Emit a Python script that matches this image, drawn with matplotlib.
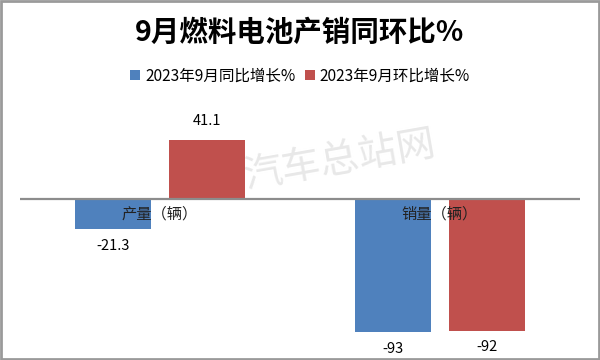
import matplotlib.pyplot as plt
import numpy as np
from matplotlib.patches import Rectangle

plt.rcParams['font.family'] = ['Noto Sans CJK SC', 'DejaVu Sans']

categories = ["产量（辆）", "销量（辆）"]
yoy = [-21.3, -93]
mom = [41.1, -92]
series_names = ["2023年9月同比增长%", "2023年9月环比增长%"]
colors = ["#4F81BD", "#C0504D"]

fig = plt.figure(figsize=(6, 3.6), dpi=100)
ax = fig.add_axes([20 / 600, 1 - 342 / 360, 560 / 600, 229 / 360])

x = np.arange(len(categories))
w = 0.27
off = 0.168
b1 = ax.bar(x - off, yoy, w, color=colors[0], label=series_names[0])
b2 = ax.bar(x + off, mom, w, color=colors[1], label=series_names[1])

ax.set_xlim(-0.5, 1.5)
ax.set_ylim(-100, 60)
ax.axhline(0, color="#8c8c8c", lw=1.6)
ax.axis("off")

# value labels
for bars in (b1, b2):
    for rect in bars:
        v = rect.get_height()
        cx = rect.get_x() + rect.get_width() / 2
        if v >= 0:
            ax.annotate(f"{v:g}", (cx, v), xytext=(0, 9), textcoords="offset points",
                        ha="center", va="bottom", fontsize=10.5)
        else:
            ax.annotate(f"{v:g}", (cx, v), xytext=(0, -7), textcoords="offset points",
                        ha="center", va="top", fontsize=10.5)

# category labels just below the zero line
for i, c in enumerate(categories):
    ax.annotate(c, (i, 0), xytext=(0, -5), textcoords="offset points",
                ha="center", va="top", fontsize=11, color="#222222")

fig.text(0.5, 1 - 33 / 360, "9月燃料电池产销同环比%", ha="center", va="center",
         fontsize=20.5, fontweight="bold")

fig.legend(handles=[b1, b2], loc="center", bbox_to_anchor=(0.5, 1 - 76 / 360),
           ncol=2, frameon=False, fontsize=11.2, handlelength=0.65, handleheight=0.65,
           handletextpad=0.3, columnspacing=0.6)

# watermark, behind the bars
fig.text(340 / 600, 1 - 160 / 360, "汽车总站网", ha="center", va="center",
         fontsize=28, color="#e8e8e8", rotation=10, zorder=-1)

fig.patches.append(Rectangle((0.002, 0.003), 0.996, 0.994, transform=fig.transFigure,
                             fill=False, edgecolor="#9a9a9a", lw=2))

fig.savefig("out.png", dpi=100)
